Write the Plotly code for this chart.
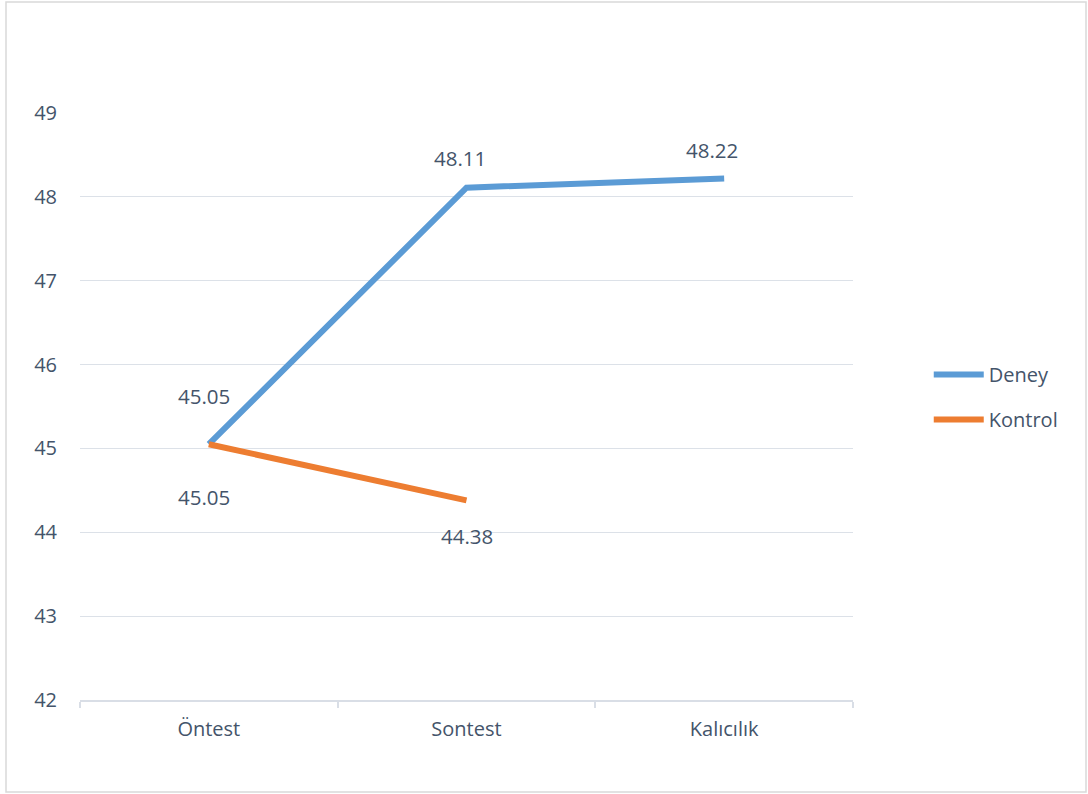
import plotly.graph_objects as go

categories = ["Öntest", "Sontest", "Kalıcılık"]
deney = [45.05, 48.11, 48.22]
kontrol = [45.05, 44.38, None]
y_ticks = [42, 43, 44, 45, 46, 47, 48, 49]

TXT = "#44546A"
FONT = "Open Sans"

fig = go.Figure()
fig.add_trace(go.Scatter(x=categories, y=deney, name="Deney", mode="lines",
                         line=dict(color="#5B9BD5", width=6), legendgroup="a"))
fig.add_trace(go.Scatter(x=categories, y=kontrol, name="Kontrol", mode="lines",
                         line=dict(color="#ED7D31", width=6), legendgroup="b"))

# data labels (offsets only; values from arrays)
deney_off = [(-5, 48), (-7, 30), (-12, 28)]
kontrol_off = [(-5, -53), (0, -36), (0, 0)]
for c, v, (dx, dy) in zip(categories, deney, deney_off):
    fig.add_annotation(x=c, y=v, text=f"{v:.2f}", showarrow=False,
                       xshift=dx, yshift=dy, font=dict(size=20.5, color=TXT, family=FONT))
for c, v, (dx, dy) in zip(categories, kontrol, kontrol_off):
    if v is None:
        continue
    fig.add_annotation(x=c, y=v, text=f"{v:.2f}", showarrow=False,
                       xshift=dx, yshift=dy, font=dict(size=20.5, color=TXT, family=FONT))

# outer chart border
fig.add_shape(type="rect", xref="paper", yref="paper",
              x0=(6 - 80) / 773, x1=(1086 - 80) / 773,
              y0=(700 - 792) / 587, y1=(700 - 2) / 587,
              line=dict(color="#D9D9D9", width=1.5), fillcolor="rgba(0,0,0,0)", layer="below")

fig.update_layout(
    width=1088, height=794,
    margin=dict(l=80, r=235, t=113, b=94),
    paper_bgcolor="white", plot_bgcolor="white",
    font=dict(family=FONT, size=20, color=TXT),
    showlegend=True,
    legend=dict(x=1.098, y=0.516, xanchor="left", yanchor="middle",
                font=dict(size=20, color=TXT, family=FONT),
                tracegroupgap=16, traceorder="grouped",
                itemwidth=50, bgcolor="rgba(0,0,0,0)"),
    xaxis=dict(type="category", showgrid=False, showline=True, linecolor="#D9DEE6",
               linewidth=1.5, ticks="outside", tickson="boundaries", ticklen=6,
               tickcolor="#D9DEE6", tickwidth=1.5, range=[-0.5, 2.5],
               ticklabelstandoff=10,
               tickfont=dict(size=20, color=TXT, family=FONT), fixedrange=True),
    yaxis=dict(range=[42, 49], tickvals=y_ticks, showgrid=True, gridcolor="#DCE1E8",
               gridwidth=1.2, zeroline=False, showline=False, ticks="",
               ticklabelstandoff=22,
               tickfont=dict(size=20, color=TXT, family=FONT)),
)

fig.write_html("out.html", config={"displayModeBar": False},
               post_script="document.body.style.margin='0px';")
